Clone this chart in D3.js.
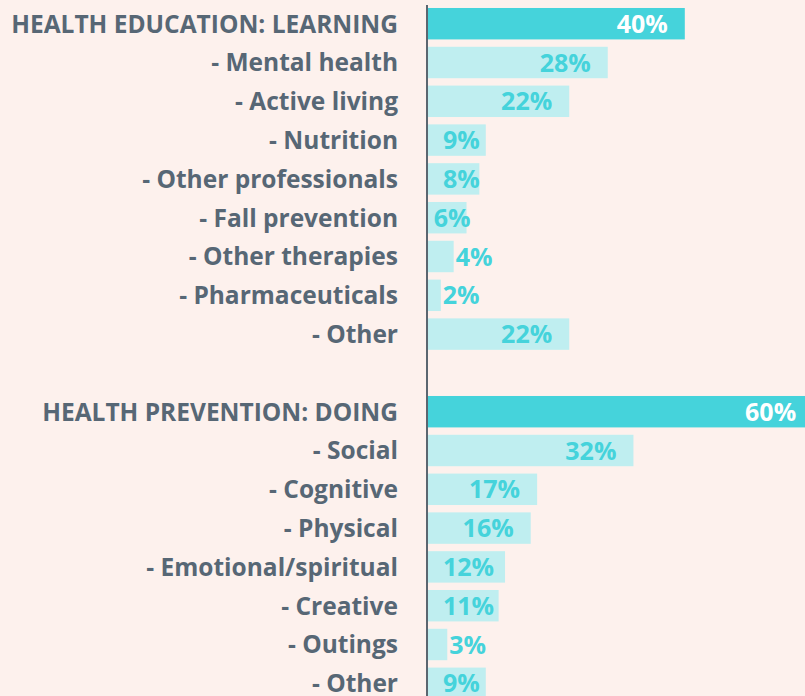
<!DOCTYPE html>
<html>
<head>
<meta charset="utf-8">
<script src="https://cdn.jsdelivr.net/npm/d3@7"></script>
<style>
  html, body { margin: 0; padding: 0; background: #fdf1ed; }
  svg { display: block; }
  .label { font-family: "Open Sans", Lato, sans-serif; font-weight: 700; fill: #576775; }
  .value { font-family: "Open Sans", Lato, sans-serif; font-weight: 700; }
</style>
</head>
<body>
<svg id="chart"></svg>
<script>
const width = 805;
const height = 696;

// chart data
const groups = ['HEALTH EDUCATION: LEARNING', 'HEALTH PREVENTION: DOING'];
const groupValues = [40, 60];

const educationItems = ['- Mental health', '- Active living', '- Nutrition', '- Other professionals',
  '- Fall prevention', '- Other therapies', '- Pharmaceuticals', '- Other'];
const educationValues = [28, 22, 9, 8, 6, 4, 2, 22];

const preventionItems = ['- Social', '- Cognitive', '- Physical', '- Emotional/spiritual',
  '- Creative', '- Outings', '- Other'];
const preventionValues = [32, 17, 16, 12, 11, 3, 9];

// build rows (blank spacer between the two groups)
const rows = [];
rows.push({ label: groups[0], value: groupValues[0], main: true });
educationItems.forEach((d, i) => rows.push({ label: d, value: educationValues[i], main: false }));
rows.push({ label: '', value: null, main: false });
rows.push({ label: groups[1], value: groupValues[1], main: true });
preventionItems.forEach((d, i) => rows.push({ label: d, value: preventionValues[i], main: false }));
rows.forEach((d, i) => d.id = 'r' + i);

const svg = d3.select('#chart')
  .attr('width', width)
  .attr('height', height);

const rowStep = 38.8;
const rowTop = 4.3;

const y = d3.scaleBand()
  .domain(rows.map((d) => d.id))
  .range([rowTop, rowTop + rows.length * rowStep])
  .paddingInner(0.19)
  .paddingOuter(0.095);

const x = d3.scaleLinear()
  .domain([0, 100])
  .range([428, 1070]);

const base = x(0);

const bars = rows.filter((d) => d.value !== null);

svg.append('g')
  .selectAll('rect')
  .data(bars)
  .enter()
  .append('rect')
  .attr('x', base)
  .attr('y', (d) => y(d.id))
  .attr('width', (d) => x(d.value) - base)
  .attr('height', y.bandwidth())
  .attr('fill', (d) => d.main ? '#45d3db' : '#bfeef0');

// axis line
svg.append('line')
  .attr('x1', base - 1).attr('x2', base - 1)
  .attr('y1', 5).attr('y2', height)
  .attr('stroke', '#5b6670')
  .attr('stroke-width', 2);

// category labels
svg.append('g')
  .selectAll('text')
  .data(rows.filter((d) => d.label))
  .enter()
  .append('text')
  .attr('class', 'label')
  .attr('x', 398)
  .attr('y', (d) => y(d.id) + y.bandwidth() / 2)
  .attr('dy', '0.36em')
  .attr('text-anchor', 'end')
  .style('font-size', '24.5px')
  .text((d) => d.label);

// value labels
const vals = svg.append('g')
  .selectAll('text')
  .data(bars)
  .enter()
  .append('text')
  .attr('class', 'value')
  .attr('y', (d) => y(d.id) + y.bandwidth() / 2)
  .attr('dy', '0.36em')
  .style('font-size', '25px')
  .attr('fill', (d) => d.main ? '#ffffff' : '#45d3db')
  .text((d) => d.value + '%');

vals.each(function (d) {
  const w = this.getComputedTextLength();
  const end = x(d.value);
  let left;
  if (end - base < 30) {
    left = end + 2;
  } else {
    let right = end - 17;
    if (right - w < base + 15) right = Math.min(base + 15 + w, end + 4);
    left = right - w;
  }
  d3.select(this).attr('x', left);
});
</script>
</body>
</html>
